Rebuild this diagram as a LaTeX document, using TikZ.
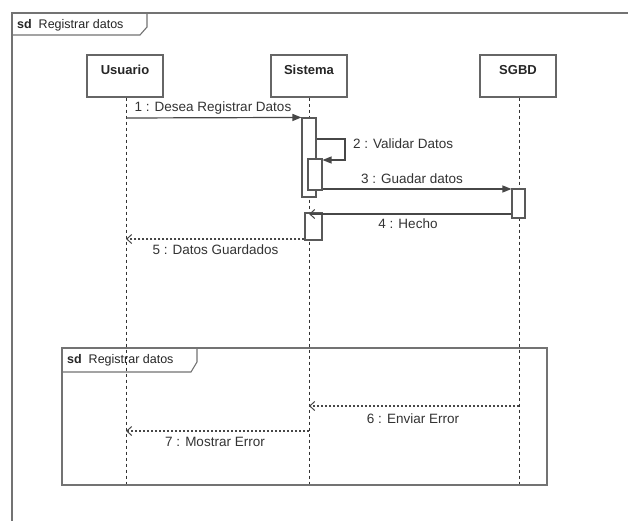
\documentclass[tikz,border=0pt]{standalone}
\usepackage{fontspec}
\setmainfont{Liberation Sans}
\usetikzlibrary{arrows.meta}
\begin{document}
\begin{tikzpicture}[x=1pt,y=-1pt,
  frame/.style={draw=black!55,line width=1.1pt},
  head/.style={draw=black!60,line width=1.1pt,fill=white,minimum width=76pt,minimum height=42pt,inner sep=0pt},
  headtxt/.style={font=\fontsize{13}{15}\selectfont\bfseries,text=black!85,inner sep=0pt,anchor=base},
  lbl/.style={font=\fontsize{13.5}{15}\selectfont,text=black!80,inner sep=0pt,anchor=base},
  sdtxt/.style={font=\fontsize{12.5}{14}\selectfont,text=black!85,inner sep=0pt,anchor=base west},
  life/.style={draw=black!80,line width=1pt,dash pattern=on 3pt off 3pt},
  act/.style={draw=black!65,line width=1.1pt,fill=white,inner sep=0pt},
  msg/.style={draw=black!72,line width=1.2pt},
  sync/.style={msg,-{Triangle[length=9pt,width=7pt]}},
  ret/.style={msg,-{Straight Barb[length=5pt,width=9pt,line width=1pt]}},
  reply/.style={msg,dash pattern=on 2pt off 2pt,-{Straight Barb[length=5pt,width=9pt,line width=1pt]}}
]
\useasboundingbox (0,0) rectangle (628,521);
\fill[white] (0,0) rectangle (628,521);

% outer frame
\draw[frame] (628,13) -- (12,13) -- (12,521);
\draw[frame] (147,13) -- (147,27) -- (140,35) -- (12,35);
\node[sdtxt] (sdtop) at (17,29) {\textbf{sd}\ \ Registrar datos};

% lifeline heads
\node[head] (usuario) at (125,76) {};
\node[head] (sistema) at (309,76) {};
\node[head] (sgbd) at (518,76) {};
\node[headtxt] (usuarioT) at (125,75) {Usuario};
\node[headtxt] (sistemaT) at (309,75) {Sistema};
\node[headtxt] (sgbdT) at (518,75) {SGBD};

% lifeline ends
\coordinate (uEnd) at (126,485);
\coordinate (sEnd) at (309,485);
\coordinate (gEnd) at (519,485);
\draw[life] (usuario.south -| uEnd) -- (uEnd);
\draw[life] (sistema.south -| sEnd) -- (sEnd);
\draw[life] (sgbd.south -| gEnd) -- (gEnd);

% lower frame
\draw[frame] (62,348) rectangle (547,485);
\draw[frame] (197,348) -- (197,362) -- (191,372) -- (62,372);
\node[sdtxt] (sdlow) at (67,363) {\textbf{sd}\ \ Registrar datos};

% activations
\node[act,minimum width=14pt,minimum height=79pt] (act1) at (309,157.5) {};
\node[act,minimum width=14pt,minimum height=31pt] (act2) at (315,174.5) {};
\node[act,minimum width=13pt,minimum height=29pt] (act3) at (518.5,203.5) {};
\node[act,minimum width=17pt,minimum height=27pt] (act4) at (313.5,226.5) {};

% coordinates on lifelines
\coordinate (m1s) at (126,118);
\coordinate (m2a) at (345,139);
\coordinate (m2b) at (345,160);
\coordinate (m4e) at (309,214);
\coordinate (m5e) at (126,239);
\coordinate (m6s) at (519,406);
\coordinate (m6e) at (309,406);
\coordinate (m7e) at (126,431);

% messages
\draw[sync] (m1s) -- (act1.north west);
\draw[sync] (act1.east |- m2a) -- (m2a) -- (m2b) -- (act2.east |- m2b);
\draw[sync] (act2.east |- 0,189) -- (act3.west |- 0,189);
\draw[ret] (act3.west |- m4e) -- (m4e);
\draw[reply] (act4.west |- m5e) -- (m5e);
\draw[reply] (m6s) -- (m6e);
\draw[reply] (m6e |- m7e) -- (m7e);

% labels
\node[lbl] (l1) at (213,112) {1 : Desea Registrar Datos};
\node[lbl,anchor=base west] (l2) at (353,149) {2 : Validar Datos};
\node[lbl] (l3) at (412,184) {3 : Guadar datos};
\node[lbl] (l4) at (408,228) {4 : Hecho};
\node[lbl] (l5) at (215.5,254) {5 : Datos Guardados};
\node[lbl] (l6) at (413,423) {6 : Enviar Error};
\node[lbl] (l7) at (215,446) {7 : Mostrar Error};
\end{tikzpicture}
\end{document}
